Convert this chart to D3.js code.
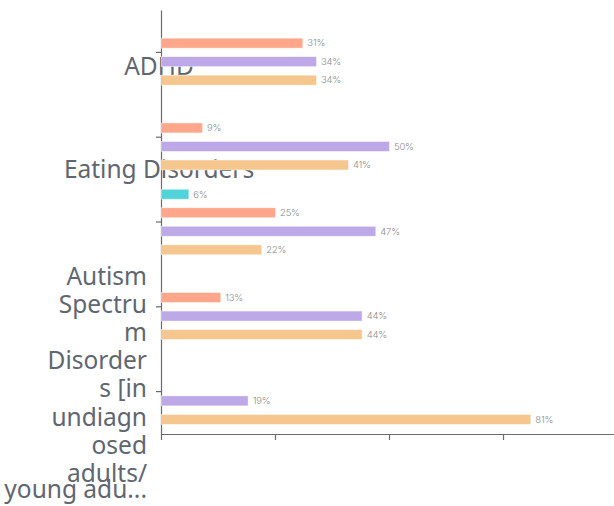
<!DOCTYPE html>
<html>
<head>
<meta charset="utf-8">
<script src="https://cdn.jsdelivr.net/npm/d3@7"></script>
<style>
  html, body { margin: 0; padding: 0; background: #fff; }
  svg { display: block; }
</style>
</head>
<body>
<svg id="chart" width="614" height="506"></svg>
<script>
// Condition groups (category axis) and the lines of each category label
const categoryIds = [0, 1, 2, 3, 4];
const categoryLabelLines = [
  ["ADHD"],
  ["Eating Disorders"],
  [],
  [],
  ["Autism", "Spectru", "m", "Disorder", "s [in", "undiagn", "osed", "adults/", "young adu..."]
];

// Series, in slot order inside each group
const seriesNames = ["s1", "s2", "s3", "s4"];
const seriesColors = ["#52d3d9", "#ffa68b", "#bda8e8", "#f5c78e"];

// Percent values per series (null = no bar)
const s1Values = [null, null, 6, null, null];
const s2Values = [31, 9, 25, 13, null];
const s3Values = [34, 50, 47, 44, 19];
const s4Values = [34, 41, 22, 44, 81];

// Value axis ticks
const xTicks = [0, 25, 50, 75, 100];

const seriesValues = [s1Values, s2Values, s3Values, s4Values];

const svg = d3.select("#chart");
const W = 614, H = 506;
const plot = { left: 161, top: 10, bottom: 434 };

const x = d3.scaleLinear().domain([0, 100]).range([plot.left, plot.left + 456]);
const y0 = d3.scaleBand().domain(categoryIds).range([plot.top, plot.bottom]);
const y1 = d3.scaleBand().domain(seriesNames).range([0, y0.bandwidth()])
  .paddingInner(0.46).paddingOuter(0.52);

// Category labels (drawn underneath axes and bars)
const labelFont = "'Noto Sans', sans-serif";
const labelSize = 24.5;
const lineGap = 28.2;
const labelG = svg.append("g")
  .attr("font-family", labelFont)
  .attr("font-size", labelSize)
  .attr("fill", "#5f6670");

// vertical placement of each label relative to its category centre
const labelShift = [23, 41, 0, 0, -107];

categoryLabelLines.forEach((lines, i) => {
  if (!lines.length) return;
  const cy = y0(categoryIds[i]) + y0.bandwidth() / 2;
  const single = lines.length === 1;
  const t = labelG.append("text")
    .attr("text-anchor", single ? "middle" : "end");
  lines.forEach((ln, j) => {
    let base = cy + labelShift[i] + j * lineGap;
    base = Math.min(base, H - 8); // keep the last line inside the frame
    t.append("tspan")
      .attr("x", single ? plot.left - 2 : plot.left - 14)
      .attr("y", base)
      .text(ln);
  });
});

// Axes
const axisColor = "#6b6b6b";
const xAxis = svg.append("g")
  .attr("transform", `translate(0,${plot.bottom})`)
  .call(d3.axisBottom(x).tickValues(xTicks).tickFormat("").tickSize(6).tickSizeOuter(0));
const yAxis = svg.append("g")
  .attr("transform", `translate(${plot.left},0)`)
  .call(d3.axisLeft(y0).tickFormat("").tickSize(5).tickSizeOuter(0));
[xAxis, yAxis].forEach(a => {
  a.selectAll("path, line").attr("stroke", axisColor).attr("stroke-width", 1.2);
});

// Bars
const rows = [];
categoryIds.forEach((c, i) => {
  seriesNames.forEach((s, k) => {
    const v = seriesValues[k][i];
    if (v != null) rows.push({ c, s, k, v });
  });
});

const barG = svg.append("g");
barG.selectAll("rect")
  .data(rows)
  .join("rect")
  .attr("x", x(0) + 0.5)
  .attr("y", d => y0(d.c) + y1(d.s))
  .attr("width", d => x(d.v) - x(0))
  .attr("height", y1.bandwidth())
  .attr("fill", d => seriesColors[d.k])
  .attr("stroke", "#fff")
  .attr("stroke-opacity", 0.6)
  .attr("stroke-width", 0.8);

// Value labels
barG.selectAll("text")
  .data(rows)
  .join("text")
  .attr("x", d => x(d.v) + 5)
  .attr("y", d => y0(d.c) + y1(d.s) + y1.bandwidth() / 2)
  .attr("dy", "0.35em")
  .attr("font-family", "Inter, sans-serif")
  .attr("font-weight", 300)
  .attr("font-size", 9.5)
  .attr("letter-spacing", -0.2)
  .attr("fill", "#8c8c8c")
  .text(d => d.v + "%");
</script>
</body>
</html>
